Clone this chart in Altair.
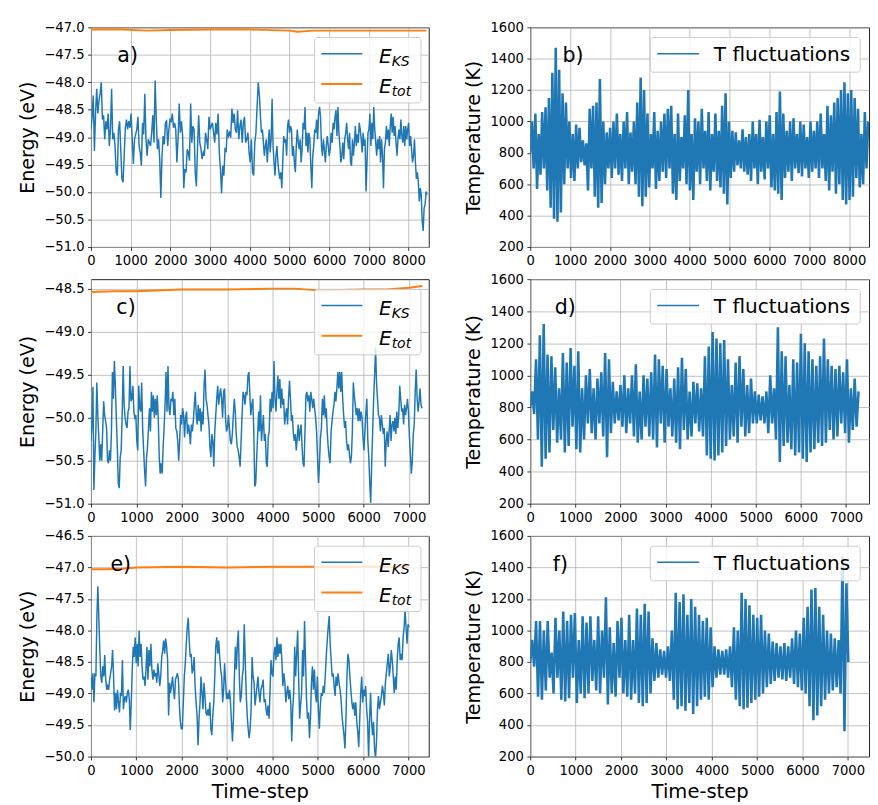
import altair as alt
import numpy as np
import pandas as pd

FONT = "DejaVu Sans"
BLUE = "#1f77b4"
ORANGE = "#ff7f0e"

# ---------------- panel a: E_KS (eV), two read-off segments ----------------
ks_a_1 = [-48.86, -48.63, -48.24, -49.25, -48.57, -48.12, -48.57, -48.33, -48.21, -48.00,
          -48.68, -48.60, -49.04, -48.71, -48.86, -48.57, -49.16, -48.86, -48.12, -49.04,
          -48.92, -49.16, -49.64, -49.70, -48.86, -48.71, -49.22, -49.76, -49.82, -49.34,
          -48.83, -48.68, -48.86, -48.71, -48.83, -48.57, -49.04, -49.49, -49.04, -48.95,
          -48.86, -48.63, -49.16, -49.28, -49.52, -48.74, -48.95, -48.21, -49.04, -49.34,
          -49.04, -49.10, -49.16, -48.92, -48.60, -49.10, -47.97, -48.68, -49.22, -49.04,
          -49.40, -50.11, -49.34, -48.98, -49.13, -48.74, -48.71, -49.16, -48.86, -48.68,
          -48.71, -48.57, -48.83, -48.74, -48.86, -49.46, -49.04, -48.39, -48.92, -48.71,
          -48.98, -49.93, -49.58, -49.64, -49.22, -49.28, -49.43, -48.39, -49.10, -48.80,
          -48.86, -49.64, -49.90, -49.19, -48.60, -49.10, -49.22, -49.40, -49.28, -49.34,
          -48.92, -49.04, -49.22, -48.63, -48.86, -48.80, -48.74, -48.92, -49.10, -48.74,
          -48.95, -48.57, -49.28, -49.58, -50.02, -49.52, -49.70, -49.22, -49.25, -48.86,
          -48.98, -48.92, -49.01, -48.48, -48.74, -48.57, -48.86, -48.92, -48.51, -49.04,
          -48.80, -48.68, -49.10, -48.74, -48.63, -49.10, -49.04, -48.92, -49.28, -49.46,
          -49.04, -49.64, -49.70, -49.10, -48.92, -48.45, -48.00]
ks_a_2 = [-48.27, -48.63, -48.92, -48.86, -49.10, -49.34, -49.16, -49.04, -49.46, -49.16,
          -48.86, -49.28, -49.04, -48.30, -49.16, -49.46, -49.70, -49.34, -49.16, -49.46,
          -49.64, -49.76, -49.64, -49.93, -49.46, -48.98, -49.10, -49.04, -49.34, -48.80,
          -48.68, -48.92, -48.80, -48.86, -49.34, -49.16, -49.46, -49.64, -49.16, -48.86,
          -49.10, -49.22, -49.04, -49.46, -49.22, -48.74, -48.86, -48.45, -49.16, -48.92,
          -49.28, -48.92, -49.04, -49.52, -49.93, -49.34, -49.16, -48.86, -48.92, -48.68,
          -49.04, -48.57, -48.45, -48.63, -49.16, -49.34, -49.04, -49.22, -49.46, -49.16,
          -48.98, -49.16, -49.34, -49.22, -48.92, -49.10, -48.74, -48.86, -48.63, -48.51,
          -48.98, -48.45, -48.92, -49.16, -49.46, -49.34, -49.10, -49.40, -49.04, -48.92,
          -48.74, -49.04, -49.22, -48.92, -49.46, -49.52, -49.04, -49.34, -49.10, -48.80,
          -49.16, -48.95, -49.10, -48.74, -48.86, -49.04, -49.28, -48.92, -49.16, -49.04,
          -49.99, -49.46, -48.92, -48.86, -48.57, -49.16, -48.74, -49.04, -48.45, -48.86,
          -49.10, -49.34, -49.04, -49.22, -48.98, -49.46, -49.04, -49.34, -49.93, -49.22,
          -49.10, -48.80, -49.04, -48.86, -49.16, -48.80, -48.57, -48.92, -48.63, -48.98,
          -48.80, -49.10, -49.34, -49.04, -48.86, -49.04, -48.68, -48.98, -49.10, -48.80,
          -49.16, -48.80, -49.04, -48.86, -48.74, -49.16, -48.98, -49.22, -49.46, -49.34,
          -49.04, -49.46, -49.76, -49.64, -49.82, -50.17, -49.93, -50.05, -50.53, -50.71,
          -50.29, -50.23, -49.99, -50.05]
tot_a_steps = [0, 800, 1400, 2000, 3000, 4000, 5000, 5200, 5600, 6500, 7500, 8450]
tot_a_vals = [-47.04, -47.04, -47.06, -47.05, -47.04, -47.04, -47.06, -47.08, -47.06, -47.06, -47.06, -47.06]

# ---------------- panel c ----------------
ks_c_1 = [-50.27, -50.08, -49.64, -50.84, -50.46, -50.16, -49.59, -49.97, -50.23, -50.50,
          -50.31, -50.50, -50.16, -49.81, -49.97, -50.04, -50.12, -50.50, -50.53, -50.38,
          -50.50, -50.16, -49.47, -49.78, -49.34, -49.63, -50.00, -50.34, -50.76, -50.82,
          -50.46, -50.38, -49.97, -49.40, -49.85, -50.00, -50.08, -50.12, -49.93, -49.89,
          -49.40, -49.81, -49.78, -49.63, -49.93, -50.00, -49.97, -50.27, -50.38, -49.63,
          -49.89, -49.93, -49.59, -50.12, -50.38, -50.61, -50.80, -50.46, -50.34, -50.12,
          -49.89, -50.16, -49.70, -49.93, -49.74, -50.00, -49.78, -49.97, -49.74, -50.00,
          -50.46, -50.65, -50.53, -50.65, -50.34, -50.12, -49.85, -49.47, -49.93, -49.40,
          -49.89, -49.97, -49.78, -49.81, -49.70, -49.97, -49.78, -50.12, -50.16, -50.27,
          -50.50, -50.27, -49.97, -50.08, -49.89, -49.97, -50.23, -50.00, -49.93, -50.19,
          -50.08, -50.16, -50.31, -50.08, -50.16, -50.04, -49.85, -49.70, -49.97, -50.08,
          -49.85, -50.04, -49.89, -50.16, -49.93, -50.08, -49.63, -49.44, -49.78, -49.85,
          -49.97, -50.08, -50.34, -50.46, -50.19, -50.27, -50.57, -50.16, -49.97, -49.78,
          -49.63, -49.85, -49.74, -49.66, -49.78, -50.00, -49.70, -49.66, -50.00, -50.16,
          -50.12, -49.97, -50.12, -50.27, -50.31, -50.19, -49.97, -49.78, -49.93, -50.19,
          -50.34, -50.38, -50.46, -50.57, -50.27, -49.97, -49.70, -49.74, -49.85, -49.70,
          -49.74, -49.51, -49.47, -49.74, -49.97, -49.85, -49.78, -50.16, -50.80, -50.76,
          -50.46, -50.19, -49.93]
ks_c_2 = [-50.16, -49.74, -50.27, -50.12, -49.97, -50.27, -50.19, -50.53, -50.57, -50.23,
          -50.16, -49.78, -49.93, -49.70, -49.89, -49.34, -49.78, -49.93, -49.70, -49.51,
          -49.78, -49.55, -49.89, -49.66, -49.85, -49.78, -50.08, -49.97, -49.89, -50.08,
          -49.78, -49.57, -49.78, -50.04, -49.97, -50.19, -50.27, -50.19, -50.38, -50.23,
          -50.08, -50.27, -50.16, -50.08, -50.34, -50.53, -50.57, -50.16, -49.74, -49.70,
          -49.81, -49.74, -49.93, -49.70, -49.78, -49.89, -49.78, -49.89, -50.00, -50.16,
          -50.46, -50.76, -50.53, -50.23, -50.12, -49.78, -49.97, -49.74, -50.00, -49.89,
          -50.16, -50.34, -50.46, -50.53, -50.16, -50.04, -49.93, -49.85, -49.70, -49.81,
          -49.66, -49.47, -49.66, -49.47, -49.70, -49.47, -49.78, -49.97, -50.12, -50.04,
          -50.27, -50.38, -50.31, -50.42, -50.53, -50.46, -50.16, -49.59, -49.74, -49.85,
          -49.97, -49.89, -50.04, -49.89, -50.04, -49.93, -50.00, -50.23, -50.38, -50.16,
          -49.93, -49.78, -50.27, -50.46, -50.76, -50.99, -50.53, -50.16, -49.78, -49.51,
          -49.19, -49.59, -49.78, -49.97, -50.00, -50.16, -49.97, -50.08, -50.19, -50.12,
          -50.57, -50.27, -50.16, -50.34, -50.16, -49.97, -50.27, -50.08, -50.04, -50.16,
          -50.00, -50.19, -49.93, -50.12, -49.97, -49.63, -49.78, -49.93, -49.89, -50.08,
          -49.85, -49.97, -49.89, -49.78, -49.93, -50.23, -50.42, -50.65, -50.50, -50.19,
          -50.08, -49.70, -49.44, -49.78, -49.93, -49.81, -49.66, -49.85, -49.89]
tot_c_steps = [0, 500, 1000, 2000, 3000, 4000, 4500, 5000, 6000, 6500, 7000, 7290]
tot_c_vals = [-48.54, -48.53, -48.53, -48.51, -48.51, -48.50, -48.50, -48.52, -48.51, -48.51, -48.49, -48.47]

# ---------------- panel e ----------------
ks_e_1 = [-48.73, -48.94, -48.68, -49.14, -48.68, -48.73, -47.80, -47.30, -47.80, -48.31,
          -48.73, -48.83, -48.57, -48.73, -48.39, -48.78, -48.94, -48.88, -48.94, -48.78,
          -48.68, -48.57, -48.31, -48.73, -49.27, -48.99, -49.25, -48.94, -49.14, -49.30,
          -48.99, -49.04, -48.47, -49.25, -49.09, -49.04, -49.14, -48.99, -48.94, -49.09,
          -49.58, -49.14, -48.62, -48.26, -48.42, -48.11, -48.52, -48.21, -48.57, -48.00,
          -48.42, -48.21, -48.57, -48.78, -48.73, -48.88, -48.62, -48.26, -48.78, -48.31,
          -48.57, -48.21, -48.62, -48.78, -48.62, -48.73, -48.68, -48.83, -48.52, -48.68,
          -48.88, -48.73, -48.42, -48.31, -48.16, -48.37, -48.13, -48.26, -48.47, -49.35,
          -48.83, -48.99, -48.88, -48.73, -48.94, -49.09, -48.78, -48.73, -48.68, -48.78,
          -49.19, -49.45, -49.56, -49.56, -49.14, -48.73, -48.52, -48.21, -47.95, -47.80,
          -48.16, -48.42, -48.37, -48.68, -48.62, -48.42, -48.88, -49.14, -49.35, -49.82,
          -49.40, -49.14, -48.73, -48.99, -49.25, -48.83, -49.04, -49.30, -49.35, -49.25,
          -49.35, -49.14, -49.56, -49.66, -49.35, -49.14, -48.73, -48.26, -48.11, -48.37,
          -48.16, -48.42, -48.62, -48.73, -49.14, -48.94, -48.52, -48.83, -49.09, -48.99,
          -49.09, -48.94, -49.14, -49.45, -49.76, -49.40, -48.73, -48.26, -48.62, -48.21,
          -48.00, -48.73, -49.14, -49.04, -48.73, -48.62, -47.90, -48.47, -48.99, -49.35,
          -49.56, -49.71, -49.56, -49.25, -48.42, -48.73, -48.83, -49.19, -49.04, -48.88,
          -48.73, -48.99, -49.14, -48.94, -48.88]
ks_e_2 = [-48.88, -48.78, -49.14, -49.09, -49.25, -49.35, -49.19, -49.40, -48.94, -48.47,
          -48.68, -48.73, -48.37, -48.26, -48.47, -48.11, -48.42, -48.21, -48.37, -48.21,
          -48.47, -48.88, -48.68, -48.83, -49.14, -48.99, -48.88, -49.09, -48.94, -49.14,
          -49.76, -49.25, -48.99, -48.26, -48.73, -48.37, -48.00, -48.73, -49.40, -49.19,
          -48.99, -48.31, -48.73, -47.85, -48.47, -49.09, -49.40, -49.30, -49.71, -49.40,
          -48.83, -48.57, -48.94, -48.62, -48.99, -49.14, -48.73, -49.25, -49.56, -49.19,
          -48.99, -49.04, -48.88, -48.99, -48.73, -48.42, -48.16, -47.95, -47.77, -48.21,
          -48.47, -48.73, -48.68, -48.88, -49.04, -48.73, -48.88, -48.68, -48.83, -48.94,
          -49.09, -49.35, -49.51, -49.66, -49.87, -49.40, -48.73, -48.37, -48.47, -48.73,
          -48.94, -49.14, -49.25, -49.14, -49.35, -49.14, -49.45, -49.61, -49.85, -49.40,
          -48.99, -48.73, -49.14, -48.94, -49.04, -48.88, -49.25, -49.45, -50.03, -49.40,
          -48.99, -49.45, -49.66, -49.45, -49.87, -50.03, -49.76, -49.25, -49.04, -49.25,
          -49.14, -49.04, -48.88, -48.99, -49.19, -48.83, -48.68, -48.52, -48.37, -48.73,
          -48.57, -48.31, -48.47, -48.73, -48.99, -48.73, -48.94, -48.47, -48.21, -48.11,
          -48.47, -48.37, -48.47, -48.11, -47.95, -47.67, -47.95, -48.21, -47.90, -47.95]
tot_e_steps = [0, 300, 700, 1000, 2000, 3000, 4000, 5000, 6000, 7000]
tot_e_vals = [-47.03, -47.03, -47.02, -47.00, -46.99, -47.00, -46.99, -46.99, -46.99, -46.99]

# ---------------- temperature fluctuations (K) ----------------
t_b = [800, 1000, 700, 1050, 570, 920, 660, 1060, 700, 1090,
       560, 1150, 450, 1310, 380, 1470, 360, 1330, 420, 1180,
       600, 1120, 700, 1000, 640, 920, 620, 980, 700, 960,
       740, 880, 720, 860, 560, 1080, 700, 1100, 520, 1120,
       450, 1270, 480, 1000, 600, 930, 700, 960, 640, 1000,
       700, 1050, 660, 920, 620, 1000, 700, 1060, 600, 930,
       680, 1000, 600, 1120, 520, 1280, 460, 1200, 520, 1050,
       580, 920, 700, 1060, 570, 940, 620, 1000, 680, 1050,
       640, 1080, 700, 1100, 540, 920, 500, 1050, 620, 900,
       700, 1040, 600, 1200, 560, 920, 500, 1020, 680, 1000,
       600, 1080, 700, 940, 620, 1060, 560, 920, 680, 1050,
       620, 940, 580, 1100, 540, 1180, 470, 1000, 640, 940,
       680, 930, 720, 880, 700, 950, 680, 900, 660, 920,
       620, 1000, 700, 920, 600, 1010, 680, 900, 630, 1000,
       700, 1040, 580, 920, 560, 1060, 540, 1190, 500, 1050,
       640, 940, 680, 1000, 620, 1020, 700, 920, 670, 1000,
       650, 980, 700, 900, 640, 1000, 680, 940, 700, 1000,
       640, 1050, 700, 920, 620, 1100, 560, 1040, 680, 1120,
       540, 1150, 600, 1200, 500, 1250, 470, 1180, 500, 1200,
       520, 1150, 640, 1080, 580, 920, 600, 1060, 700, 1000]
t_d = [800, 900, 760, 1100, 600, 1250, 430, 1320, 480, 1130,
       520, 1120, 660, 1050, 580, 920, 600, 1140, 520, 1080,
       560, 1170, 680, 1060, 540, 1150, 520, 920, 600, 1000,
       700, 1040, 640, 920, 600, 980, 700, 1020, 620, 1140,
       490, 1100, 640, 960, 700, 900, 720, 940, 680, 1000,
       640, 920, 700, 1000, 620, 1070, 580, 900, 600, 1000,
       680, 980, 620, 1020, 600, 1130, 550, 1100, 700, 1060,
       580, 1040, 680, 920, 620, 980, 580, 1050, 540, 1110,
       660, 1040, 600, 900, 620, 960, 700, 950, 650, 920,
       620, 1120, 500, 1180, 480, 1270, 470, 1230, 500, 1200,
       520, 1220, 560, 1100, 600, 940, 620, 1080, 580, 1120,
       680, 1040, 620, 940, 640, 980, 700, 900, 700, 880,
       720, 870, 700, 900, 640, 1000, 700, 920, 600, 1300,
       460, 1150, 560, 1120, 580, 940, 540, 1100, 500, 1080,
       520, 1260, 480, 1200, 460, 1150, 520, 1100, 540, 1060,
       580, 1120, 560, 1230, 580, 1100, 660, 1060, 600, 1040,
       620, 1060, 700, 1020, 640, 1100, 580, 920, 660, 980,
       680, 900]
t_f = [800, 940, 770, 1060, 580, 1060, 560, 1000, 620, 1060,
       700, 860, 600, 1080, 700, 1000, 560, 1120, 550, 1060,
       570, 1100, 700, 1110, 540, 940, 600, 1090, 570, 1050,
       600, 1090, 680, 940, 620, 1090, 600, 1000, 700, 1210,
       530, 1020, 600, 920, 580, 1060, 700, 1080, 600, 940,
       580, 1100, 560, 940, 600, 1140, 540, 1100, 520, 1170,
       540, 1120, 600, 950, 680, 920, 700, 880, 720, 870,
       700, 900, 680, 1000, 560, 1240, 500, 1180, 520, 1230,
       490, 1100, 540, 1200, 470, 1150, 520, 1100, 560, 1060,
       580, 1080, 560, 1020, 640, 900, 700, 880, 720, 870,
       720, 880, 700, 900, 640, 1020, 560, 1000, 520, 1240,
       500, 1200, 510, 1160, 540, 1100, 560, 1080, 580, 1100,
       600, 1000, 640, 980, 660, 930, 680, 920, 700, 900,
       690, 920, 680, 900, 700, 950, 660, 1000, 640, 980,
       620, 1080, 600, 1150, 520, 1260, 430, 1270, 460, 1150,
       520, 1100, 560, 1000, 600, 980, 620, 950, 640, 940,
       600, 1470, 360, 1300, 800]

x_ticks_8 = [0, 1000, 2000, 3000, 4000, 5000, 6000, 7000, 8000]
x_ticks_7 = [0, 1000, 2000, 3000, 4000, 5000, 6000, 7000]
y_ticks_a = [-51.0, -50.5, -50.0, -49.5, -49.0, -48.5, -48.0, -47.5, -47.0]
y_ticks_c = [-51.0, -50.5, -50.0, -49.5, -49.0, -48.5]
y_ticks_e = [-50.0, -49.5, -49.0, -48.5, -48.0, -47.5, -47.0, -46.5]
y_ticks_t = [200, 400, 600, 800, 1000, 1200, 1400, 1600]


def seg_frame(segments):
    parts = []
    for start, end, vals in segments:
        parts.append(pd.DataFrame({"step": np.linspace(start, end, len(vals)), "val": vals}))
    return pd.concat(parts, ignore_index=True)


def pts_frame(steps, vals):
    return pd.DataFrame({"step": steps, "val": vals})


ONE = pd.DataFrame({"k": [0]})


def x_axis(ticks, title):
    if title:
        return alt.Axis(values=ticks, format="d", labelFlush=False, labelOverlap=False,
                        title=title, titleFontSize=20, titlePadding=5)
    return alt.Axis(values=ticks, format="d", labelFlush=False, labelOverlap=False, title=None)


def y_axis(ticks, fmt, title):
    return alt.Axis(values=ticks, format=fmt, labelOverlap=False, labelFlush=False,
                    title=title, titleFontSize=19.5, titlePadding=7)


def txt(text, x, y, size, italic=False):
    kw = dict(text=text, font=FONT, fontSize=size, align="left", baseline="alphabetic", color="black")
    if italic:
        kw["fontStyle"] = "italic"
    return alt.Chart(ONE).mark_text(**kw).encode(x=alt.value(x), y=alt.value(y))


def panel(lines, xdom, xticks, xtitle, ydom, yticks, yfmt, ytitle, W, H, label, lx, kind):
    layers = []
    for df, color, sw in lines:
        layers.append(
            alt.Chart(df).mark_line(color=color, strokeWidth=sw, clip=True).encode(
                x=alt.X("step:Q", scale=alt.Scale(domain=xdom, nice=False, zero=False),
                        axis=x_axis(xticks, xtitle)),
                y=alt.Y("val:Q", scale=alt.Scale(domain=ydom, nice=False, zero=False),
                        axis=y_axis(yticks, yfmt, ytitle)),
            )
        )
    if kind == "energy":
        layers.append(alt.Chart(ONE).mark_rect(fill="white", fillOpacity=0.8, stroke="#cccccc",
                                               strokeWidth=1, cornerRadius=3).encode(
            x=alt.value(W - 117), x2=alt.value(W - 8), y=alt.value(10.5), y2=alt.value(77.5)))
        layers.append(alt.Chart(ONE).mark_rule(color=BLUE, strokeWidth=1.5).encode(
            x=alt.value(W - 110), x2=alt.value(W - 68), y=alt.value(27)))
        layers.append(alt.Chart(ONE).mark_rule(color=ORANGE, strokeWidth=2).encode(
            x=alt.value(W - 110), x2=alt.value(W - 68), y=alt.value(58)))
        layers.append(txt("E", W - 51, 36.5, 20.5, True))
        layers.append(txt("KS", W - 38, 39.5, 14.3, True))
        layers.append(txt("E", W - 51, 67.5, 20.5, True))
        layers.append(txt("tot", W - 38, 70.5, 14.3, True))
    else:
        layers.append(alt.Chart(ONE).mark_rect(fill="white", fillOpacity=0.8, stroke="#cccccc",
                                               strokeWidth=1, cornerRadius=3).encode(
            x=alt.value(W - 224), x2=alt.value(W - 9), y=alt.value(10.5), y2=alt.value(46)))
        layers.append(alt.Chart(ONE).mark_rule(color=BLUE, strokeWidth=1.5).encode(
            x=alt.value(W - 217), x2=alt.value(W - 174), y=alt.value(27)))
        layers.append(txt("T fluctuations", W - 159, 35, 20.5))
    layers.append(txt(label, lx, 35.5, 21))
    return alt.layer(*layers).properties(width=W, height=H)


LW, RW = 346, 347
TW = 2.6  # line width for the dense temperature traces

ks_a = seg_frame([(0, 4213, ks_a_1), (4245, 8465, ks_a_2)])
ks_c = seg_frame([(0, 3690, ks_c_1), (3709, 7284, ks_c_2)])
ks_e = seg_frame([(0, 3770, ks_e_1), (3775, 7014, ks_e_2)])
tb = seg_frame([(0, 8480, t_b)])
td = seg_frame([(0, 7280, t_d)])
tf = seg_frame([(0, 7010, t_f)])

pa = panel([(ks_a, BLUE, 1.5), (pts_frame(tot_a_steps, tot_a_vals), ORANGE, 2)],
           [0, 8508], x_ticks_8, None, [-51, -47], y_ticks_a, ".1f", "Energy (eV)", LW, 225, "a)", 27, "energy")
pb = panel([(tb, BLUE, TW)], [0, 8500], x_ticks_8, None, [200, 1600], y_ticks_t, "d",
           "Temperature (K)", RW, 225, "b)", 33, "temp")
pc = panel([(ks_c, BLUE, 1.5), (pts_frame(tot_c_steps, tot_c_vals), ORANGE, 2)],
           [0, 7433], x_ticks_7, None, [-51, -48.39], y_ticks_c, ".1f", "Energy (eV)", LW, 230, "c)", 26, "energy")
pd_ = panel([(td, BLUE, TW)], [0, 7513], x_ticks_7, None, [200, 1600], y_ticks_t, "d",
            "Temperature (K)", RW, 230, "d)", 25, "temp")
pe = panel([(ks_e, BLUE, 1.5), (pts_frame(tot_e_steps, tot_e_vals), ORANGE, 2)],
           [0, 7449], x_ticks_7, "Time-step", [-50, -46.5], y_ticks_e, ".1f", "Energy (eV)", LW, 226, "e)", 20, "energy")
pf = panel([(tf, BLUE, TW)], [0, 7466], x_ticks_7, "Time-step", [200, 1600], y_ticks_t, "d",
           "Temperature (K)", RW, 226, "f)", 23, "temp")

chart = alt.vconcat(
    alt.hconcat(pa, pb, spacing=34),
    alt.hconcat(pc, pd_, spacing=34),
    alt.hconcat(pe, pf, spacing=34),
    spacing=4,
).properties(
    padding={"left": 9, "top": 2, "right": 0, "bottom": 0}
).configure_axis(
    labelFont=FONT, titleFont=FONT, labelFontSize=13.5, titleFontWeight="normal",
    labelColor="black", titleColor="black", tickColor="black", tickSize=3.5, tickWidth=0.8,
    gridColor="#b0b0b0", gridWidth=0.8, domain=False, labelPadding=3.5,
).configure_view(stroke="#222222", strokeWidth=1)

chart.save("out.html", embed_options={"renderer": "svg", "actions": False})
